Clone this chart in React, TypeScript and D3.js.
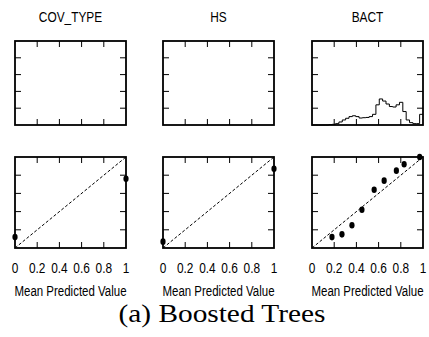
import React from "react";
import * as d3 from "d3";

// Panel titles (one column per feature)
const panelNames = ["COV_TYPE", "HS", "BACT"];

// Shared axis ticks
const xTickValues = [0, 0.2, 0.4, 0.6, 0.8, 1];
const xTickLabels = ["0", "0.2", "0.4", "0.6", "0.8", "1"];
const innerTickValues = [0.2, 0.4, 0.6, 0.8];

// Calibration points: mean predicted value vs fraction of positives
const covMeanPred = [0.0, 1.0];
const covFracPos = [0.12, 0.76];
const hsMeanPred = [0.0, 1.0];
const hsFracPos = [0.07, 0.87];
const bactMeanPred = [0.18, 0.27, 0.36, 0.45, 0.56, 0.65, 0.76, 0.83, 0.97];
const bactFracPos = [0.12, 0.15, 0.25, 0.42, 0.64, 0.74, 0.85, 0.92, 1.0];

// Histogram of predicted values for BACT (33 equal bins over [0, 1])
const bactHist = [
  0, 0, 0, 0, 0, 0.005, 0.008, 0.016, 0.036, 0.06, 0.08, 0.1, 0.11, 0.1,
  0.083, 0.087, 0.09, 0.1, 0.127, 0.24, 0.31, 0.285, 0.25, 0.22, 0.214,
  0.24, 0.27, 0.16, 0.06, 0.028, 0.016, 0.016, 0.127,
];

const calX = [covMeanPred, hsMeanPred, bactMeanPred];
const calY = [covFracPos, hsFracPos, bactFracPos];
const hists: (number[] | null)[] = [null, null, bactHist];

const W = 429;
const H = 337;
const panelLeft = [15, 163, 312];
const panelWidth = 111;
const topRange: [number, number] = [125, 41];
const botRange: [number, number] = [248, 157];
const tickLen = 6;
const sansFont = "'Liberation Sans', Arial, Helvetica, sans-serif";
const narrow = 0.82;

function NarrowText(props: { x: number; y: number; size: number; children: string }) {
  return (
    <text
      transform={`translate(${props.x},${props.y}) scale(${narrow},1)`}
      textAnchor="middle"
      fontFamily={sansFont}
      fontSize={props.size}
      fill="#000"
    >
      {props.children}
    </text>
  );
}

function Frame(props: {
  x: d3.ScaleLinear<number, number>;
  y: d3.ScaleLinear<number, number>;
}) {
  const { x, y } = props;
  const [x0, x1] = x.range();
  const [yb, yt] = y.range();
  return (
    <g>
      {innerTickValues.map((v) => (
        <g key={"t" + v} stroke="#000" strokeWidth={1}>
          <line x1={x(v)} x2={x(v)} y1={yb} y2={yb - tickLen} />
          <line x1={x(v)} x2={x(v)} y1={yt} y2={yt + tickLen} />
          <line x1={x0} x2={x0 + tickLen} y1={y(v)} y2={y(v)} />
          <line x1={x1} x2={x1 - tickLen} y1={y(v)} y2={y(v)} />
        </g>
      ))}
      <rect
        x={x0}
        y={yt}
        width={x1 - x0}
        height={yb - yt}
        fill="none"
        stroke="#000"
        strokeWidth={1.8}
      />
    </g>
  );
}

export default function App() {
  return (
    <svg
      width={W}
      height={H}
      style={{ position: "absolute", left: 0, top: 0, background: "#fff" }}
    >
      <rect width={W} height={H} fill="#fff" />
      {panelNames.map((name, i) => {
        const x = d3.scaleLinear().domain([0, 1]).range([panelLeft[i], panelLeft[i] + panelWidth]);
        const yTop = d3.scaleLinear().domain([0, 1]).range(topRange);
        const yBot = d3.scaleLinear().domain([0, 1]).range(botRange);
        const hist = hists[i];
        let histPath: string | null = null;
        if (hist) {
          const n = hist.length;
          const pts: [number, number][] = hist.map((h, k) => [k / n, h]);
          pts.push([1, hist[n - 1]]);
          histPath = d3
            .line<[number, number]>()
            .x((d) => x(d[0]))
            .y((d) => yTop(d[1]))
            .curve(d3.curveStepAfter)(pts);
        }
        const cx = (panelLeft[i] * 2 + panelWidth) / 2;
        return (
          <g key={name}>
            <NarrowText x={cx} y={22} size={14.5}>
              {name}
            </NarrowText>
            {histPath && <path d={histPath} fill="none" stroke="#000" strokeWidth={1} />}
            <Frame x={x} y={yTop} />
            <line
              x1={x(0)}
              y1={yBot(0)}
              x2={x(1)}
              y2={yBot(1)}
              stroke="#000"
              strokeWidth={1}
              strokeDasharray="3,2"
            />
            <Frame x={x} y={yBot} />
            {calX[i].map((v, k) => (
              <ellipse key={k} cx={x(v)} cy={yBot(calY[i][k])} rx={2.6} ry={3.3} fill="#000" />
            ))}
            {xTickValues.map((v, k) => (
              <NarrowText key={"l" + k} x={x(v)} y={273} size={14.5}>
                {xTickLabels[k]}
              </NarrowText>
            ))}
            <NarrowText x={cx} y={296} size={14}>
              Mean Predicted Value
            </NarrowText>
          </g>
        );
      })}
      <text
        x={222}
        y={322}
        textAnchor="middle"
        fontFamily="'Liberation Serif', 'Times New Roman', serif"
        fontSize={25}
        textLength={207}
        lengthAdjust="spacingAndGlyphs"
        fill="#000"
      >
        (a) Boosted Trees
      </text>
    </svg>
  );
}
